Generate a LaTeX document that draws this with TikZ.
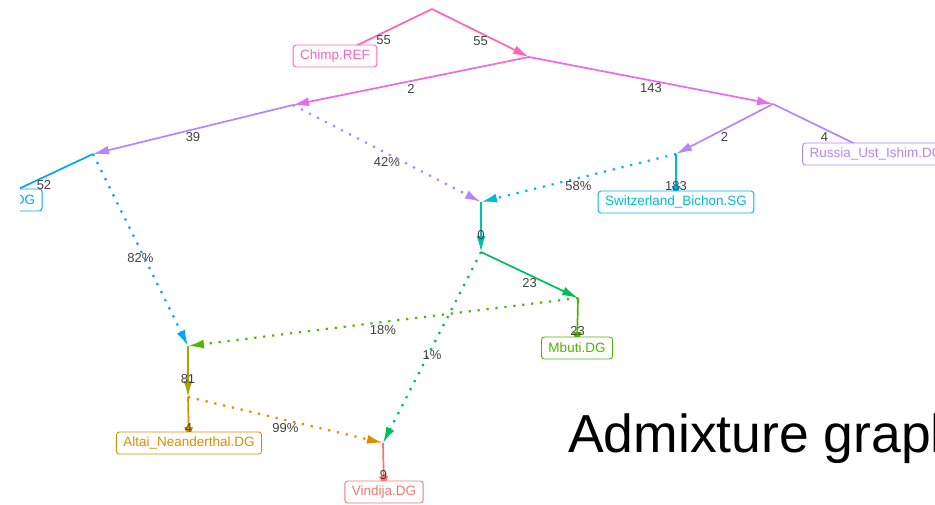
\documentclass[tikz,border=0pt]{standalone}
\usepackage{fontspec}
\setmainfont{Liberation Sans}
\usetikzlibrary{arrows.meta,calc}

\definecolor{cRoot}{HTML}{FF63B6}
\definecolor{cMag}{HTML}{EF67EB}
\definecolor{cPur}{HTML}{B385FF}
\definecolor{cBlue}{HTML}{00A6FF}
\definecolor{cCyan}{HTML}{00BADE}
\definecolor{cTeal}{HTML}{00C1A7}
\definecolor{cSea}{HTML}{00BD5C}
\definecolor{cGreen}{HTML}{53B400}
\definecolor{cOlive}{HTML}{AEA200}
\definecolor{cOrange}{HTML}{DB8E00}
\definecolor{cRed}{HTML}{F8766D}

\tikzset{
  tree/.style={line width=1.7pt, -{Latex[length=16pt,width=9pt]}},
  mix/.style={tree, line width=2.2pt, dash pattern=on 2.2pt off 6.8pt},
  leaf/.style={draw=#1, text=#1, fill=white, rounded corners=3pt, line width=0.9pt,
    inner xsep=7pt, minimum height=22pt, font=\fontsize{13.5}{15}\selectfont},
  elabel/.style={text=black!75, inner sep=0pt, font=\fontsize{13}{15}\selectfont},
}

\begin{document}
\begin{tikzpicture}[x=1pt,y=-1pt]
\useasboundingbox (0,0) rectangle (935,504);
\begin{scope}
\clip (20,0) rectangle (935,504);

% inner nodes
\coordinate (root) at (432,9);
\coordinate (A) at (529,57);
\coordinate (B) at (293,105);
\coordinate (C) at (773,104);
\coordinate (D) at (676,154);
\coordinate (E) at (93,154);
\coordinate (F) at (481,202);
\coordinate (G) at (481,252);
\coordinate (H) at (578,298);
\coordinate (I) at (188,346);
\coordinate (J) at (188,397);
\coordinate (K) at (383,443);

% leaves
\coordinate (chimp) at (335,56);
\coordinate (russia) at (876,154);
\coordinate (swiss) at (676,202);
\coordinate (deni) at (-5,200);
\coordinate (mbuti) at (577,348);
\coordinate (altai) at (189,443);
\coordinate (vindija) at (384,492);

% tree edges
\foreach \a/\b/\col in {root/A/cRoot, root/chimp/cRoot, A/B/cMag, A/C/cMag,
    B/E/cPur, C/D/cPur, C/russia/cPur, D/swiss/cCyan, E/deni/cBlue,
    F/G/cTeal, G/H/cSea, H/mbuti/cGreen, I/J/cOlive, J/altai/cOrange,
    K/vindija/cRed}
  \draw[tree, color=\col] (\a) -- (\b);

% admixture edges
\foreach \a/\b/\col in {B/F/cPur, D/F/cCyan, E/I/cBlue, H/I/cGreen,
    G/K/cSea, J/K/cOrange}
  \draw[mix, color=\col] (\a) -- (\b);

% leaf boxes
\node[leaf=cRoot] (chimpbox) at (chimp) {Chimp.REF};
\node[leaf=cPur] (russiabox) at (russia) {Russia\_Ust\_Ishim.DG};
\node[leaf=cCyan] (swissbox) at (swiss) {Switzerland\_Bichon.SG};
\node[leaf=cBlue] (denibox) at (deni) {Denisova.DG};
\node[leaf=cGreen] (mbutibox) at (mbuti) {Mbuti.DG};
\node[leaf=cOrange] (altaibox) at (altai) {Altai\_Neanderthal.DG};
\node[leaf=cRed] (vindijabox) at (vindija) {Vindija.DG};

% edge labels
\foreach \a/\b/\l in {root/chimp/55, root/A/55, A/B/2, A/C/143, B/E/39,
    C/D/2, C/russia/4, E/deni/52, B/F/42\%, D/F/58\%, D/swiss/183,
    F/G/0, E/I/82\%, G/H/23, G/K/1\%, H/I/18\%, H/mbuti/23, I/J/81,
    J/altai/4, J/K/99\%, K/vindija/9}
  \node[elabel] at ($(\a)!.5!(\b)+(0,8)$) {\l};
\end{scope}

\node[anchor=base west, inner sep=0pt, font=\fontsize{53.5}{60}\selectfont]
  (title) at (568,452) {Admixture graph};
\end{tikzpicture}
\end{document}
